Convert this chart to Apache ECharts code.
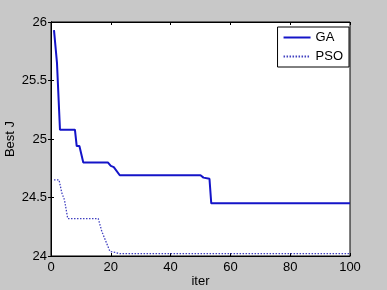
<!DOCTYPE html>
<html>
<head>
<meta charset="utf-8">
<script src="https://cdn.jsdelivr.net/npm/echarts@6/dist/echarts.min.js"></script>
<style>
html,body{margin:0;padding:0;background:#c8c8c8;}
#c{width:387px;height:290px;}
</style>
</head>
<body>
<div id="c"></div>
<script>
const xTicks = [0, 20, 40, 60, 80, 100];
const yTicks = [24, 24.5, 25, 25.5, 26];
const gaIter = [1, 2, 3, 8, 8.6, 9.5, 10.8, 19, 20, 21, 23, 50, 51, 53, 53.6, 100];
const gaBest = [25.93, 25.65, 25.08, 25.08, 24.94, 24.94, 24.80, 24.80, 24.77, 24.76, 24.69, 24.69, 24.67, 24.66, 24.45, 24.45];
const psoIter = [1, 2.7, 3.6, 4.5, 5.6, 15.8, 17, 19.7, 21.4, 23, 100];
const psoBest = [24.65, 24.65, 24.54, 24.48, 24.32, 24.32, 24.21, 24.04, 24.03, 24.02, 24.02];

const font = 'Liberation Sans, Arial, sans-serif';
const chart = echarts.init(document.getElementById('c'));
const lineStyle = {color: '#000', width: 1};
chart.setOption({
  animation: false,
  backgroundColor: '#c8c8c8',
  grid: {left: 51, right: 37, top: 22, bottom: 34, outerBoundsMode: 'none', containLabel: false,
    show: true, backgroundColor: '#fff', borderColor: '#000', borderWidth: 1},
  legend: {
    right: 38, top: 27, orient: 'vertical',
    backgroundColor: '#fff', borderColor: '#000', borderWidth: 1,
    padding: [4, 6, 4, 5], itemGap: 6, itemWidth: 27, itemHeight: 10,
    itemStyle: {opacity: 0},
    textStyle: {fontFamily: font, fontSize: 13, color: '#000'},
    data: ['GA', 'PSO']
  },
  xAxis: [{
    type: 'value', min: 0, max: 100, interval: 20, position: 'bottom',
    name: 'iter', nameLocation: 'middle', nameGap: 19, nameMoveOverlap: false,
    nameTextStyle: {fontFamily: font, fontSize: 13, color: '#000'},
    axisLine: {show: true, lineStyle}, axisTick: {show: true, inside: true, length: 3, lineStyle},
    axisLabel: {margin: 5, fontFamily: font, fontSize: 13, color: '#000',
      formatter: v => xTicks.includes(v) ? String(v) : ''},
    splitLine: {show: false}
  }, {
    type: 'value', min: 0, max: 100, interval: 20, position: 'top',
    axisLine: {show: true, lineStyle}, axisTick: {show: true, inside: true, length: 3, lineStyle},
    axisLabel: {show: false}, splitLine: {show: false}
  }],
  yAxis: [{
    type: 'value', min: 24, max: 26, interval: 0.5, position: 'left',
    name: 'Best J', nameLocation: 'middle', nameGap: 34, nameMoveOverlap: false,
    nameTextStyle: {fontFamily: font, fontSize: 13, color: '#000'},
    axisLine: {show: true, lineStyle}, axisTick: {show: true, inside: true, length: 3, lineStyle},
    axisLabel: {margin: 4, fontFamily: font, fontSize: 13, color: '#000',
      formatter: v => yTicks.includes(v) ? String(v) : ''},
    splitLine: {show: false}
  }, {
    type: 'value', min: 24, max: 26, interval: 0.5, position: 'right',
    axisLine: {show: true, lineStyle}, axisTick: {show: true, inside: true, length: 3, lineStyle},
    axisLabel: {show: false}, splitLine: {show: false}
  }],
  series: [{
    name: 'GA', type: 'line', showSymbol: false, symbol: 'none',
    data: gaIter.map((x, i) => [x, gaBest[i]]),
    itemStyle: {color: '#1414c8'},
    lineStyle: {color: '#1414c8', width: 2}
  }, {
    name: 'PSO', type: 'line', showSymbol: false, symbol: 'none',
    data: psoIter.map((x, i) => [x, psoBest[i]]),
    itemStyle: {color: '#4040c0'},
    lineStyle: {color: '#4040c0', width: 1.3, type: [1.5, 1.5]}
  }]
});
</script>
</body>
</html>
